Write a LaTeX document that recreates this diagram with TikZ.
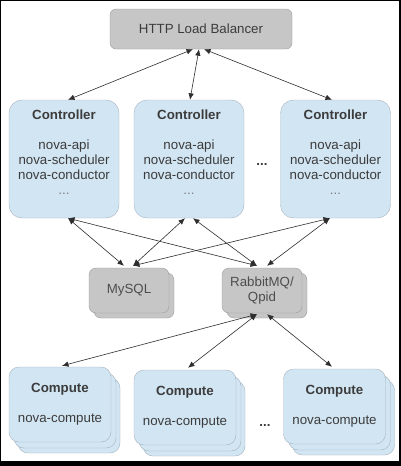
\documentclass[tikz,border=0pt]{standalone}
\usepackage{fontspec}
\setmainfont{Liberation Sans}
\usetikzlibrary{arrows.meta}
\definecolor{boxblue}{HTML}{D2E5F3}
\definecolor{boxblueline}{HTML}{A6B4BE}
\definecolor{boxgray}{HTML}{C6C6C6}
\definecolor{boxgrayline}{HTML}{9C9C9C}
\definecolor{txt}{HTML}{3C3C3C}
\definecolor{dbtxt}{HTML}{4E4E4E}
\definecolor{arr}{HTML}{2E2E2E}
\begin{document}
\begin{tikzpicture}[x=1pt,y=-1pt,
  every node/.style={font=\fontsize{13.3}{15}\selectfont, text=txt},
  lbbox/.style={draw=boxgrayline, fill=boxgray, rounded corners=6pt, minimum width=182pt, minimum height=40pt, inner sep=0pt},
  ctrlbox/.style={draw=boxblueline, fill=boxblue, rounded corners=13pt, minimum width=110pt, minimum height=118pt, inner sep=0pt},
  dbbox/.style={draw=boxgrayline, fill=boxgray, rounded corners=7pt, minimum width=80pt, minimum height=45pt, inner sep=0pt, align=center, text=dbtxt},
  compbox/.style={draw=boxblueline, fill=boxblue, rounded corners=10pt, minimum width=102pt, minimum height=75pt, inner sep=0pt, align=center},
  ctrltext/.style={anchor=north, inner sep=0pt, align=center},
  link/.style={draw=arr, line width=0.6pt, {Latex[length=6.5pt,width=5.5pt]}-{Latex[length=6.5pt,width=5.5pt]}},
  dots/.style={font=\fontsize{13.3}{15}\selectfont\bfseries}
]
% frame
\fill[black] (0,0) rectangle (401,466);
\fill[white] (1,1) rectangle (399,461);
\useasboundingbox (0,0) rectangle (401,466);

% load balancer
\node[lbbox] (lb) at (201,29) {HTTP Load Balancer};

% controllers
\node[ctrlbox] (c1) at (64,159) {};
\node[ctrlbox] (c2) at (189,159) {};
\node[ctrlbox] (c3) at (335.5,159) {};
\foreach \c in {c1,c2,c3}{
  \node[ctrltext] (\c t) at ([yshift=-9.5pt]\c.north) {\textbf{Controller}\\[15pt]nova-api\\nova-scheduler\\nova-conductor\\{\color{gray}...}};
}
\node[dots] (cdots) at (262,165) {...};

% databases
\node[dbbox] (mysqlb) at (134,295.5) {};
\node[dbbox] (mysql) at (129,290.5) {MySQL};
\node[dbbox] (rabbitb) at (267,295.5) {};
\node[dbbox] (rabbit) at (262,290.5) {RabbitMQ/\\Qpid};

% computes
\foreach \n/\x/\y in {k1/60/404.5, k2/185/407.5, k3/334.5/406.5}{
  \node[compbox] (\n b2) at (\x+9,\y+11) {};
  \node[compbox] (\n b1) at (\x+5,\y+6) {};
  \node[compbox] (\n) at (\x,\y) {\textbf{Compute}\\[15pt]nova-compute};
}
\node[dots] (kdots) at (265,426) {...};

% connectors: load balancer
\draw[link] ([xshift=-8pt]lb.south) -- ([xshift=4pt]c1.north);
\draw[link] ([xshift=-2pt]lb.south) -- ([xshift=1pt]c2.north);
\draw[link] ([xshift=3pt]lb.south) -- ([xshift=-3.5pt]c3.north);

% controllers to databases
\draw[link] ([xshift=4pt]c1.south) -- ([xshift=-5pt,yshift=2pt]mysql.north);
\draw[link] ([xshift=4pt]c1.south) -- ([xshift=-5pt,yshift=2pt]rabbit.north);
\draw[link] ([xshift=-4pt]c2.south) -- ([xshift=4pt,yshift=2pt]mysql.north);
\draw[link] ([xshift=4pt]c2.south) -- ([xshift=-5pt,yshift=2pt]rabbit.north);
\draw[link] ([xshift=-5.5pt]c3.south) -- ([xshift=4pt,yshift=2pt]mysql.north);
\draw[link] ([xshift=-5.5pt]c3.south) -- ([xshift=5pt,yshift=2pt]rabbit.north);

% queue to computes
\draw[link] ([xshift=-5pt,yshift=-1pt]rabbit.south) -- ([xshift=2pt,yshift=1pt]k1.north);
\draw[link] ([xshift=-5pt,yshift=-1pt]rabbit.south) -- ([xshift=3pt,yshift=2pt]k2.north);
\draw[link] ([xshift=5pt,yshift=-1pt]rabbit.south) -- ([xshift=-2.5pt,yshift=2pt]k3.north);
\end{tikzpicture}
\end{document}
